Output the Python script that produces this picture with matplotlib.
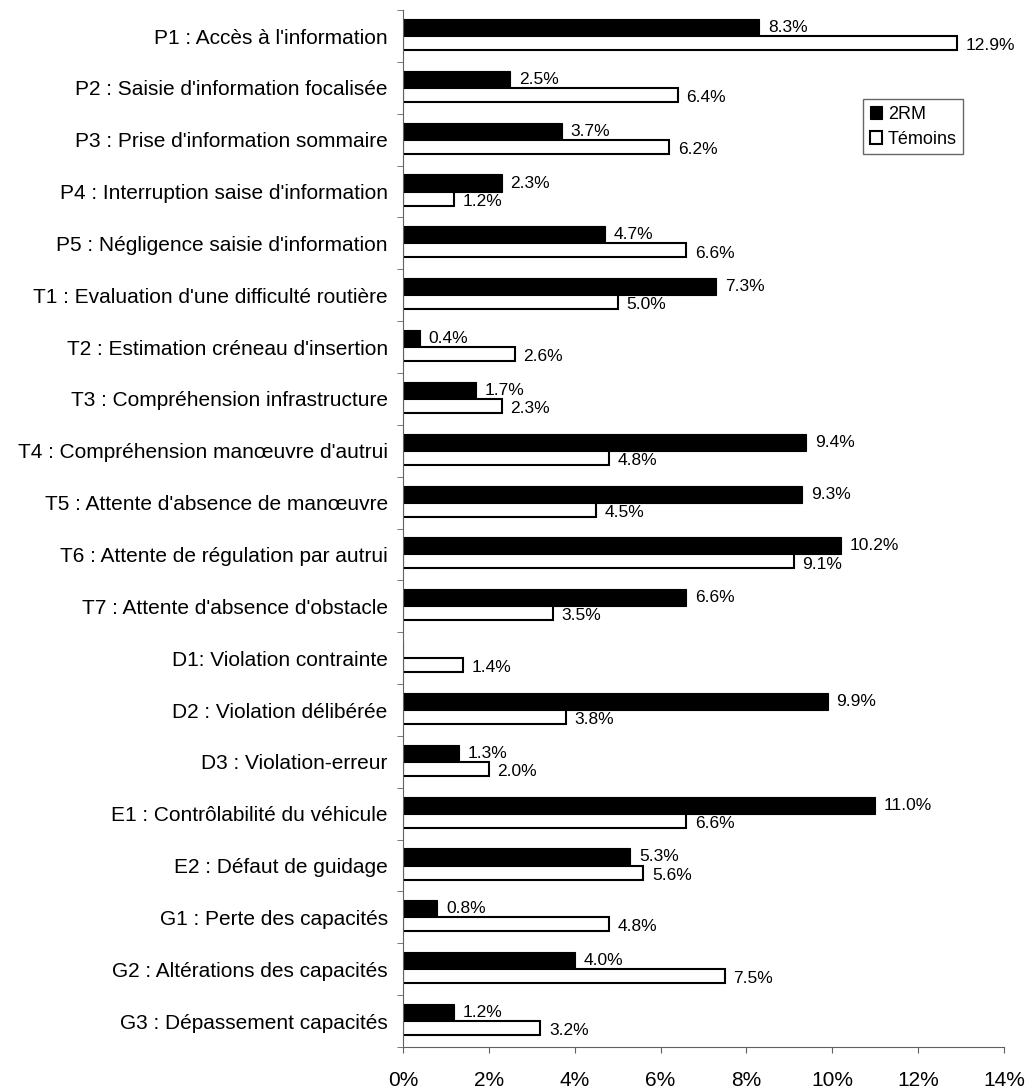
import numpy as np
import matplotlib.pyplot as plt

plt.rcParams['font.family'] = ['Liberation Sans', 'DejaVu Sans']

# Data
categories = ["P1 : Accès à l'information", "P2 : Saisie d'information focalisée",
              "P3 : Prise d'information sommaire", "P4 : Interruption saise d'information",
              "P5 : Négligence saisie d'information", "T1 : Evaluation d'une difficulté routière",
              "T2 : Estimation créneau d'insertion", "T3 : Compréhension infrastructure",
              "T4 : Compréhension manœuvre d'autrui", "T5 : Attente d'absence de manœuvre",
              "T6 : Attente de régulation par autrui", "T7 : Attente d'absence d'obstacle",
              "D1: Violation contrainte", "D2 : Violation délibérée", "D3 : Violation-erreur",
              "E1 : Contrôlabilité du véhicule", "E2 : Défaut de guidage",
              "G1 : Perte des capacités", "G2 : Altérations des capacités",
              "G3 : Dépassement capacités"]
rm2 = [8.3, 2.5, 3.7, 2.3, 4.7, 7.3, 0.4, 1.7, 9.4, 9.3, 10.2, 6.6, None, 9.9, 1.3, 11.0, 5.3, 0.8, 4.0, 1.2]
temoins = [12.9, 6.4, 6.2, 1.2, 6.6, 5.0, 2.6, 2.3, 4.8, 4.5, 9.1, 3.5, 1.4, 3.8, 2.0, 6.6, 5.6, 4.8, 7.5, 3.2]

fig = plt.figure(figsize=(10.28, 10.88), dpi=100)
ax = fig.add_axes([0.392, 0.0377, 0.5846, 0.953])

y = np.arange(len(categories))
hb = 0.33
hw = 0.27
rm2_vals = [v if v is not None else 0 for v in rm2]
ax.barh(y - hb / 2, rm2_vals, height=hb, color='black', edgecolor='black', linewidth=0.8, label='2RM')
ax.barh(y + hw / 2, temoins, height=hw, color='white', edgecolor='black', linewidth=1.5, label='Témoins')

for i, v in enumerate(rm2):
    if v is not None:
        ax.text(v + 0.2, i - hb / 2, f'{v:.1f}%', va='center', ha='left', fontsize=12.5)
for i, v in enumerate(temoins):
    ax.text(v + 0.2, i + hw / 2 + 0.05, f'{v:.1f}%', va='center', ha='left', fontsize=12.5)

ax.set_ylim(len(categories) - 0.5, -0.5)
ax.set_xlim(0, 14)
ax.set_xticks(np.arange(0, 15, 2))
ax.set_xticklabels([f'{t}%' for t in range(0, 15, 2)], fontsize=15)
ax.set_yticks(y)
ax.set_yticklabels(categories, fontsize=15)
ax.set_yticks(np.arange(-0.5, len(categories), 1), minor=True)
ax.tick_params(axis='y', which='major', length=0, pad=11)
ax.tick_params(axis='y', which='minor', length=4, color='#606060')
ax.tick_params(axis='x', length=4, color='#606060', pad=13)

for s in ['top', 'right']:
    ax.spines[s].set_visible(False)
for s in ['left', 'bottom']:
    ax.spines[s].set_color('#606060')

leg = ax.legend(loc='upper right', bbox_to_anchor=(0.932, 0.914), fontsize=13, frameon=True,
                fancybox=False, edgecolor='#404040', handlelength=0.7, handleheight=0.7,
                handletextpad=0.3, borderpad=0.35, labelspacing=0.45, borderaxespad=0)
leg.get_frame().set_linewidth(1)

fig.savefig('out.png', dpi=100)
